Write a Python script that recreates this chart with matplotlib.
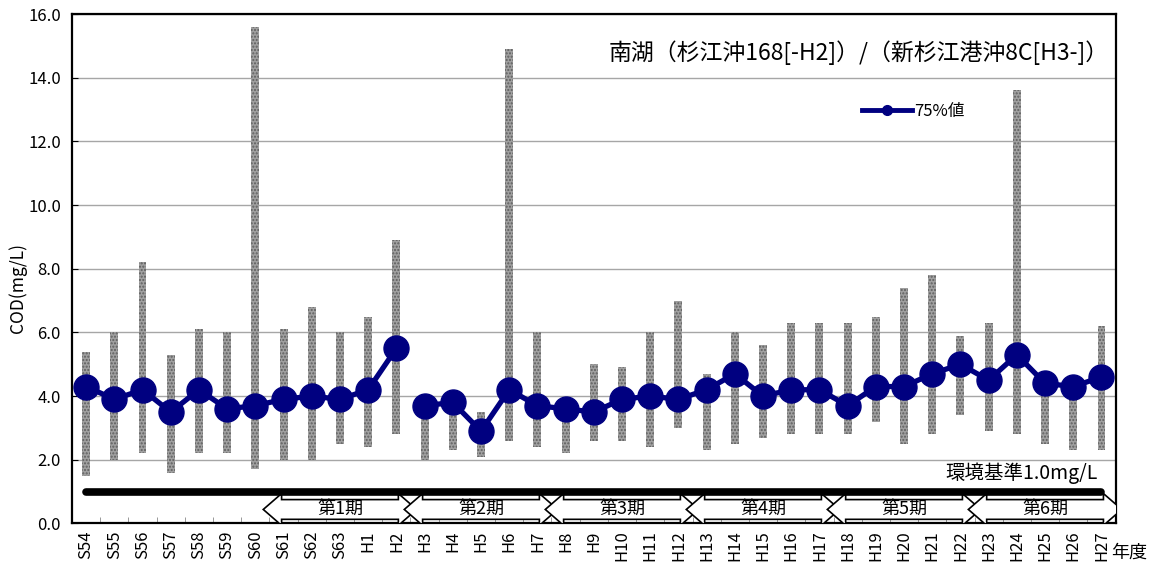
import matplotlib
matplotlib.use("Agg")
import matplotlib.pyplot as plt
from matplotlib.patches import Polygon
from matplotlib.lines import Line2D

plt.rcParams['font.family'] = ['Noto Sans CJK JP', 'DejaVu Sans']

years = ['S54', 'S55', 'S56', 'S57', 'S58', 'S59', 'S60', 'S61', 'S62', 'S63',
         'H1', 'H2', 'H3', 'H4', 'H5', 'H6', 'H7', 'H8', 'H9', 'H10',
         'H11', 'H12', 'H13', 'H14', 'H15', 'H16', 'H17', 'H18', 'H19', 'H20',
         'H21', 'H22', 'H23', 'H24', 'H25', 'H26', 'H27']

p75 = [4.3, 3.9, 4.2, 3.5, 4.2, 3.6, 3.7, 3.9, 4.0, 3.9,
       4.2, 5.5, 3.7, 3.8, 2.9, 4.2, 3.7, 3.6, 3.5, 3.9,
       4.0, 3.9, 4.2, 4.7, 4.0, 4.2, 4.2, 3.7, 4.3, 4.3,
       4.7, 5.0, 4.5, 5.3, 4.4, 4.3, 4.6]

max_v = [5.4, 6.0, 8.2, 5.3, 6.1, 6.0, 15.6, 6.1, 6.8, 6.0,
         6.5, 8.9, 3.9, 4.0, 3.5, 14.9, 6.0, 3.8, 5.0, 4.9,
         6.0, 7.0, 4.7, 6.0, 5.6, 6.3, 6.3, 6.3, 6.5, 7.4,
         7.8, 5.9, 6.3, 13.6, 4.8, 4.5, 6.2]

min_v = [1.5, 2.0, 2.2, 1.6, 2.2, 2.2, 1.7, 2.0, 2.0, 2.5,
         2.4, 2.8, 2.0, 2.3, 2.1, 2.6, 2.4, 2.2, 2.6, 2.6,
         2.4, 3.0, 2.3, 2.5, 2.7, 2.8, 2.8, 2.8, 3.2, 2.5,
         2.8, 3.4, 2.9, 2.8, 2.5, 2.3, 2.3]

# station changed from H3 (杉江沖168 -> 新杉江港沖8C)
station_change = 'H3'
standard = 1.0

periods = ['第1期', '第2期', '第3期', '第4期', '第5期', '第6期']
period_start = ['S61', 'H3', 'H8', 'H13', 'H18', 'H23']
period_end = ['H2', 'H7', 'H12', 'H17', 'H22', 'H27']

NAVY = '#000080'

fig = plt.figure(figsize=(11.49, 5.65), dpi=100)
ax = fig.add_axes([0.0627, 0.0735, 0.9082, 0.9017])

x = list(range(len(years)))

# min-max range bars
ax.bar(x, [a - b for a, b in zip(max_v, min_v)], bottom=min_v, width=0.28,
       color='#a0a0a0', edgecolor='#5e5e5e', hatch='.....', linewidth=0, zorder=2)

# 75% value line, broken where the station changed
k = years.index(station_change)
ax.plot(x[:k], p75[:k], color=NAVY, lw=3.8, marker='o', ms=18, zorder=4)
ax.plot(x[k:], p75[k:], color=NAVY, lw=3.8, marker='o', ms=18, zorder=4)

# environmental standard
ax.plot([x[0], x[-1]], [standard, standard], color='black', lw=5.5,
        solid_capstyle='round', zorder=5)
ax.text(x[-1] - 0.15, standard + 0.58, '環境基準%.1fmg/L' % standard,
        ha='right', va='center', fontsize=14, zorder=6)

# period arrows
yc, body, head, hl = 0.44, 0.31, 0.5, 0.65
for name, s, e in zip(periods, period_start, period_end):
    x0 = years.index(s) - 0.5 - 0.22
    x1 = years.index(e) + 0.5 + 0.22
    pts = [(x0, yc), (x0 + hl, yc + head), (x0 + hl, yc + body),
           (x1 - hl, yc + body), (x1 - hl, yc + head), (x1, yc),
           (x1 - hl, yc - head), (x1 - hl, yc - body), (x0 + hl, yc - body),
           (x0 + hl, yc - head)]
    ax.add_patch(Polygon(pts, closed=True, facecolor='white', edgecolor='black',
                         lw=1.2, zorder=3, clip_on=True))
    ax.text((x0 + x1) / 2, yc + 0.02, name, ha='center', va='center', fontsize=13, zorder=6)

ax.set_xlim(-0.5, len(years) - 0.5)
ax.set_ylim(0, 16)
ax.set_yticks([0, 2, 4, 6, 8, 10, 12, 14, 16])
ax.set_yticklabels(['%.1f' % v for v in ax.get_yticks()], fontsize=12)
ax.yaxis.grid(True, color='#a6a6a6', lw=1)
ax.set_axisbelow(True)

ax.set_xticks(x)
ax.set_xticklabels(years, rotation=90, fontsize=12, va='top')
ax.set_xticks([i - 0.5 for i in range(1, len(years))], minor=True)
ax.tick_params(axis='x', which='major', length=0, pad=5)
ax.tick_params(axis='x', which='minor', direction='in', length=4, color='#888888')
ax.tick_params(axis='y', direction='in', length=4, pad=8)

for sp in ax.spines.values():
    sp.set_linewidth(1.6)

ax.text(0.993, 0.925, '南湖（杉江沖168[-H2]）/（新杉江港沖8C[H3-]）', transform=ax.transAxes,
        ha='right', va='center', fontsize=16.5)

handle = Line2D([], [], color=NAVY, lw=3.5, marker='o', ms=7)
leg = ax.legend([handle], ['75%値'], loc='center left', bbox_to_anchor=(0.757, 0.808),
                frameon=False, fontsize=12, handlelength=3.0, handletextpad=0.15,
                borderpad=0, borderaxespad=0)

fig.text(18 / 1149, 0.49, 'COD(mg/L)', rotation=90, ha='center', va='center', fontsize=12.5)
fig.text(1129 / 1149, 1 - 553 / 565, '年度', ha='center', va='center', fontsize=13)

fig.savefig('out.png', dpi=100)
